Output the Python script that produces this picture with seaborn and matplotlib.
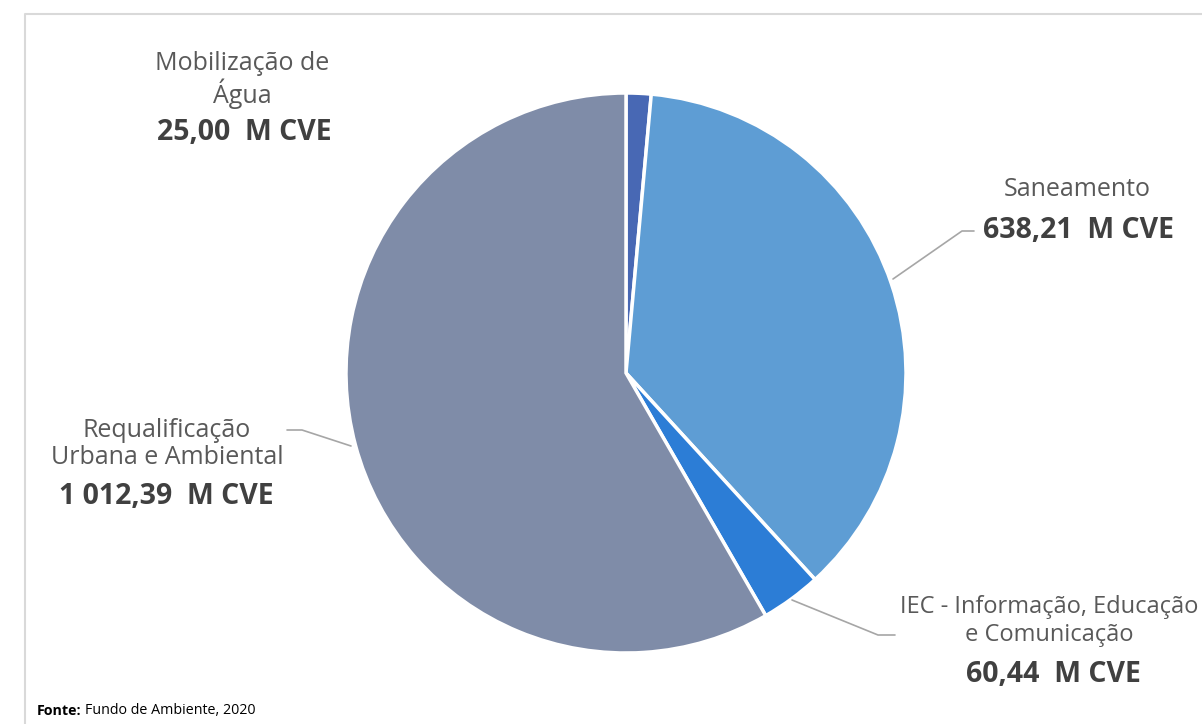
import matplotlib
matplotlib.use("Agg")
import matplotlib.pyplot as plt
import seaborn as sns

# Investment per area (million CVE)
categories = [
    "Mobilização de\nÁgua",
    "Saneamento",
    "IEC - Informação, Educação\ne Comunicação",
    "Requalificação\nUrbana e Ambiental",
]
values = [25.00, 638.21, 60.44, 1012.39]
value_labels = ["25,00  M CVE", "638,21  M CVE", "60,44  M CVE", "1 012,39  M CVE"]
colors = ["#4868B4", "#5E9DD4", "#2C7DD6", "#7F8CA8"]
source_label = "Fonte:"
source_text = "Fundo de Ambiente, 2020"

sns.set_theme(style="white")
plt.rcParams["font.family"] = ["Open Sans", "DejaVu Sans"]

W, H = 1202, 724
fig = plt.figure(figsize=(W / 100, H / 100), dpi=100)
ax = fig.add_axes([0, 0, 1, 1])
ax.set_xlim(0, W)
ax.set_ylim(0, H)
ax.set_aspect("equal")
ax.axis("off")


def Y(y):
    # convert a top-down pixel row to axis coordinates
    return H - y


# outer frame
ax.plot([25, 25, W + 5], [Y(H + 5), Y(14), Y(14)], color="#d9d9d9", lw=1.5,
        solid_capstyle="butt")

cx, cy, r = 626, Y(373), 280
ax.pie(values, colors=colors, startangle=90, counterclock=False,
       center=(cx, cy), radius=r,
       wedgeprops=dict(edgecolor="white", linewidth=2.5))
ax.set_xlim(0, W)
ax.set_ylim(0, H)

name_kw = dict(fontsize=18, color="#595959", linespacing=1.12)
val_kw = dict(fontsize=20.5, color="#404040", fontweight="bold")
line_kw = dict(color="#a6a6a6", lw=1.2)

# Mobilização de Água
ax.text(242, Y(80), categories[0], ha="center", va="center", **name_kw)
ax.text(244, Y(133), value_labels[0], ha="center", va="center", **val_kw)

# Saneamento
ax.plot([893, 962, 974], [Y(279), Y(231), Y(231)], **line_kw)
ax.text(1077, Y(190), categories[1], ha="center", va="center", **name_kw)
ax.text(983, Y(231), value_labels[1], ha="left", va="center", **val_kw)

# IEC
ax.plot([792, 878, 895], [Y(600), Y(635), Y(635)], **line_kw)
iec_kw = dict(name_kw, fontsize=17, linespacing=1.18)
ax.text(1049, Y(621), categories[2], ha="center", va="center",
        multialignment="center", **iec_kw)
ax.text(1053, Y(674), value_labels[2], ha="center", va="center", **val_kw)

# Requalificação
ax.plot([287, 302, 351], [Y(430), Y(430), Y(446)], **line_kw)
ax.text(167, Y(444), categories[3], ha="center", va="center", **name_kw)
ax.text(166, Y(497), value_labels[3], ha="center", va="center", **val_kw)

# source
src_kw = dict(fontsize=10.3, color="black", va="center", ha="left")
t = ax.text(37, Y(711), source_label, fontweight="bold", **src_kw)
fig.canvas.draw()
bb = t.get_window_extent()
ax.text(37 + bb.width + 3, Y(711), source_text, **src_kw)

fig.savefig("out.png", dpi=100)
